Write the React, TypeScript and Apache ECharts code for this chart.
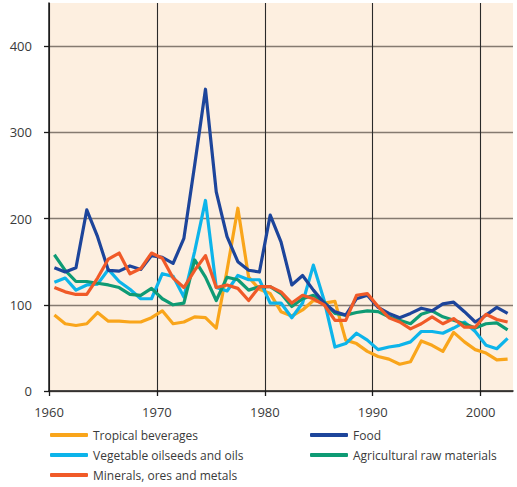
import React, { useEffect, useRef } from "react";
import * as echarts from "echarts";

const years = [
  1960, 1961, 1962, 1963, 1964, 1965, 1966, 1967, 1968, 1969,
  1970, 1971, 1972, 1973, 1974, 1975, 1976, 1977, 1978, 1979,
  1980, 1981, 1982, 1983, 1984, 1985, 1986, 1987, 1988, 1989,
  1990, 1991, 1992, 1993, 1994, 1995, 1996, 1997, 1998, 1999,
  2000, 2001, 2002,
];

const tropicalBeverages = [
  88, 78, 76, 78, 91, 81, 81, 80, 80, 85,
  93, 78, 80, 86, 85, 73, 140, 212, 132, 118,
  113, 92, 87, 94, 105, 102, 104, 59, 55, 46,
  40, 37, 31, 34, 58, 53, 46, 68, 57, 48,
  44, 36, 37,
];

const food = [
  143, 138, 143, 210, 179, 140, 139, 145, 141, 157,
  155, 148, 177, 262, 350, 231, 179, 150, 140, 138,
  204, 173, 123, 134, 117, 102, 92, 88, 107, 111,
  97, 90, 85, 90, 96, 93, 101, 103, 92, 80,
  88, 97, 90,
];

const vegetableOils = [
  126, 131, 117, 123, 124, 141, 127, 118, 107, 107,
  136, 133, 109, 162, 221, 120, 116, 134, 129, 129,
  102, 102, 85, 102, 146, 105, 51, 55, 67, 59,
  48, 51, 53, 57, 69, 69, 67, 73, 80, 69,
  53, 49, 61,
];

const agriculturalRaw = [
  158, 140, 127, 127, 125, 123, 120, 112, 111, 119,
  107, 100, 102, 152, 132, 105, 132, 129, 117, 121,
  121, 113, 98, 107, 111, 103, 90, 88, 91, 93,
  92, 86, 82, 78, 89, 93, 86, 82, 78, 73,
  78, 79, 71,
];

const minerals = [
  120, 115, 112, 112, 131, 153, 160, 136, 142, 160,
  154, 131, 120, 140, 157, 120, 123, 119, 105, 121,
  121, 115, 102, 111, 107, 100, 82, 82, 111, 113,
  98, 85, 80, 72, 78, 86, 78, 84, 74, 74,
  89, 83, 80,
];

const yTicks = [0, 100, 200, 300, 400];
const xTicks = [1960, 1970, 1980, 1990, 2000];

const FONT = "'Open Sans', 'Noto Sans', sans-serif";
const TEXT = "#3a3a3a";

const seriesDefs = [
  { name: "Tropical beverages", values: tropicalBeverages, color: "#F9A51B" },
  { name: "Vegetable oilseeds and oils", values: vegetableOils, color: "#0DB4EA" },
  { name: "Agricultural raw materials", values: agriculturalRaw, color: "#0E9B74" },
  { name: "Food", values: food, color: "#1D459B" },
  { name: "Minerals, ores and metals", values: minerals, color: "#F05A28" },
];

const legendLayout = [
  { name: "Tropical beverages", left: 50, top: 428 },
  { name: "Food", left: 310, top: 428 },
  { name: "Vegetable oilseeds and oils", left: 50, top: 448 },
  { name: "Agricultural raw materials", left: 310, top: 448 },
  { name: "Minerals, ores and metals", left: 50, top: 468 },
];

export default function App() {
  const ref = useRef<HTMLDivElement>(null);
  useEffect(() => {
    document.body.style.margin = "0";
    if (!ref.current) return;
    const chart = echarts.init(ref.current, undefined, { renderer: "svg" });
    chart.setOption({
      animation: false,
      backgroundColor: "#ffffff",
      textStyle: { fontFamily: FONT },
      grid: {
        left: 49,
        right: 4,
        top: 3,
        bottom: 96,
        show: true,
        backgroundColor: "#FDEFE0",
        borderWidth: 0,
      },
      xAxis: {
        type: "value",
        min: 1960,
        max: 2003,
        interval: 10,
        axisLine: { show: true, onZero: false, lineStyle: { color: "#1a1a1a", width: 1.5 } },
        axisTick: { show: true, length: 5, customValues: xTicks, lineStyle: { color: "#1a1a1a", width: 1.3 } },
        axisLabel: {
          customValues: xTicks,
          margin: 14,
          fontSize: 13,
          color: TEXT,
          fontFamily: FONT,
          formatter: (v: number) => String(v),
        },
        splitLine: {
          show: true,
          lineStyle: {
            color: ["#2a2a2a", "#2a2a2a", "#2a2a2a", "#2a2a2a", "#2a2a2a", "rgba(0,0,0,0)"],
            width: 1.1,
          },
        },
      },
      yAxis: {
        type: "value",
        min: 0,
        max: 450,
        interval: 100,
        axisLine: { show: true, lineStyle: { color: "#1a1a1a", width: 1.5 } },
        axisTick: { show: true, length: 5, customValues: yTicks, lineStyle: { color: "#1a1a1a", width: 1.3 } },
        axisLabel: {
          customValues: yTicks,
          margin: 17,
          fontSize: 13,
          color: TEXT,
          fontFamily: FONT,
        },
        splitLine: {
          show: true,
          lineStyle: {
            color: ["#857a70", "#857a70", "#857a70", "#857a70", "#857a70", "rgba(0,0,0,0)"],
            width: 1.4,
          },
        },
      },
      legend: legendLayout.map((l) => ({
        data: [l.name],
        left: l.left,
        top: l.top,
        padding: 0,
        itemWidth: 38,
        itemHeight: 4,
        icon: "roundRect",
        itemGap: 0,
        selectedMode: false,
        textStyle: { fontSize: 12, color: TEXT, fontFamily: FONT, lineHeight: 14, padding: [0, 0, 0, 0] },
      })),
      series: seriesDefs.map((s) => ({
        name: s.name,
        type: "line",
        data: years.map((y, i) => [y + 0.5, s.values[i]]),
        showSymbol: false,
        symbol: "none",
        lineStyle: { color: s.color, width: 3.2, join: "round" },
        itemStyle: { color: s.color },
      })),
    });
    return () => chart.dispose();
  }, []);
  return <div ref={ref} style={{ width: 517, height: 487 }} />;
}
